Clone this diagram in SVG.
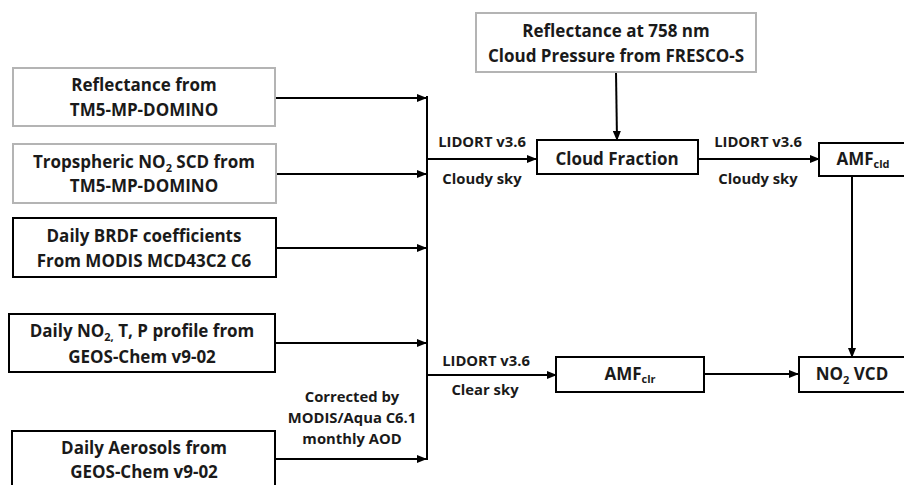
<svg xmlns="http://www.w3.org/2000/svg" width="904" height="485" viewBox="0 0 904 485">
<defs>
<marker id="ah" markerWidth="10" markerHeight="8" refX="9" refY="4" orient="auto" markerUnits="userSpaceOnUse">
<path d="M0,0 L10,4 L0,8 Z" fill="#000"/>
</marker>
<style>
text{font-family:"Open Sans","Liberation Sans",sans-serif;font-weight:bold;fill:#1a1a1a;text-anchor:middle}
.t{font-size:17px}
.l{font-size:14.8px}
.g{fill:#fff;stroke:#b4b4b4;stroke-width:2}
.b{fill:#fff;stroke:#000;stroke-width:2}
.c{fill:none;stroke:#000;stroke-width:2}
.s{font-size:11px}
</style>
</defs>
<rect width="904" height="485" fill="#fff"/>
<g id="connectors">
<path class="c" d="M276,98 H426" marker-end="url(#ah)"/>
<path class="c" d="M276,174 H426" marker-end="url(#ah)"/>
<path class="c" d="M276,248 H426" marker-end="url(#ah)"/>
<path class="c" d="M276,343 H426" marker-end="url(#ah)"/>
<path class="c" d="M276,459 H426" marker-end="url(#ah)"/>
<path class="c" d="M427,96 V460"/>
<path class="c" d="M427,159 H536" marker-end="url(#ah)"/>
<path class="c" d="M427,375 H556" marker-end="url(#ah)"/>
<path class="c" d="M616,72 L617,140" marker-end="url(#ah)"/>
<path class="c" d="M698,159 H819" marker-end="url(#ah)"/>
<path class="c" d="M852,176 V357" marker-end="url(#ah)"/>
<path class="c" d="M704,374 H798" marker-end="url(#ah)"/>
<text class="l" x="482" y="147">LIDORT v3.6</text>
<text class="l" x="482" y="184">Cloudy sky</text>
<text class="l" x="758" y="147">LIDORT v3.6</text>
<text class="l" x="758" y="184">Cloudy sky</text>
<text class="l" x="486" y="366">LIDORT v3.6</text>
<text class="l" x="485" y="395">Clear sky</text>
<text class="l" x="352" y="402">Corrected by</text>
<text class="l" x="352" y="423">MODIS/Aqua C6.1</text>
<text class="l" x="352" y="444">monthly AOD</text>
</g>
<g id="n1">
<rect class="g" x="13" y="68" width="262" height="58"/>
<text class="t" x="144" y="91">Reflectance from</text>
<text class="t" x="144" y="116">TM5-MP-DOMINO</text>
</g>
<g id="n2">
<rect class="g" x="13" y="144" width="263" height="59"/>
<text class="t" x="144" y="168">Tropspheric NO<tspan class="s" dy="4">2</tspan><tspan dy="-4"> SCD from</tspan></text>
<text class="t" x="144" y="192">TM5-MP-DOMINO</text>
</g>
<g id="n3">
<rect class="b" x="13" y="218" width="263" height="59"/>
<text class="t" x="144" y="242">Daily BRDF coefficients</text>
<text class="t" x="144" y="267">From MODIS MCD43C2 C6</text>
</g>
<g id="n4">
<rect class="b" x="9" y="314" width="266" height="58"/>
<text class="t" x="142" y="337">Daily NO<tspan class="s" dy="4">2,</tspan><tspan dy="-4"> T, P profile from</tspan></text>
<text class="t" x="142" y="363">GEOS-Chem v9-02</text>
</g>
<g id="n5">
<rect class="b" x="12" y="431" width="263" height="62"/>
<text class="t" x="144" y="454">Daily Aerosols from</text>
<text class="t" x="144" y="478">GEOS-Chem v9-02</text>
</g>
<g id="n6">
<rect class="g" x="476" y="13" width="280" height="59"/>
<text class="t" x="616" y="37">Reflectance at 758 nm</text>
<text class="t" x="616" y="62">Cloud Pressure from FRESCO-S</text>
</g>
<g id="n7">
<rect class="b" x="537" y="140" width="161" height="34"/>
<text class="t" x="617" y="165">Cloud Fraction</text>
</g>
<g id="n8">
<rect class="b" x="819" y="143" width="95" height="33"/>
<text class="t" x="863" y="165">AMF<tspan class="s" dy="3">cld</tspan></text>
</g>
<g id="n9">
<rect class="b" x="556" y="357" width="148" height="35"/>
<text class="t" x="630" y="380">AMF<tspan class="s" dy="3">clr</tspan></text>
</g>
<g id="n10">
<rect class="b" x="799" y="357" width="115" height="35"/>
<text class="t" x="852" y="380">NO<tspan class="s" dy="4">2</tspan><tspan dy="-4"> VCD</tspan></text>
</g>
</svg>
